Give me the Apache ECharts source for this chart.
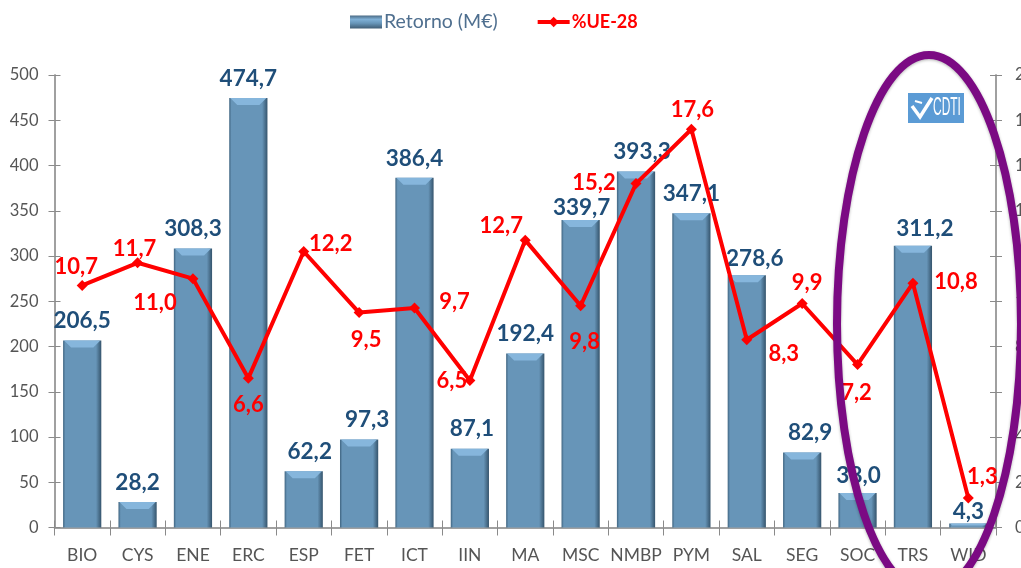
<!DOCTYPE html>
<html>
<head>
<meta charset="utf-8">
<style>
html,body{margin:0;padding:0;background:#fff;}
#mychart{width:1021px;height:568px;}
</style>
<script src="https://cdn.jsdelivr.net/npm/echarts@6/dist/echarts.min.js"></script>
</head>
<body>
<div id="mychart"></div>
<script>
const categories = ['BIO','CYS','ENE','ERC','ESP','FET','ICT','IIN','MA','MSC','NMBP','PYM','SAL','SEG','SOC','TRS','WID'];
const retorno = [206.5,28.2,308.3,474.7,62.2,97.3,386.4,87.1,192.4,339.7,393.3,347.1,278.6,82.9,38.0,311.2,4.3];
const ue28 = [10.7,11.7,11.0,6.6,12.2,9.5,9.7,6.5,12.7,9.8,15.2,17.6,8.3,9.9,7.2,10.8,1.3];
// donde cae cada etiqueta respecto a su punto o barra
const ueLabelOffsets = [[-6,-19],[-3,-14],[-38,24],[0,27],[27,-8],[7,27],[40,-6],[-18,0],[-24,-14],[4,36],[-42,-1],[1,-19],[37,14],[5,-21],[-1,28],[43,-1],[14,-21]];
const barLabelOffsets = [[0,0],[0,0],[0,0],[0,0],[6,0],[8,0],[0,0],[2,0],[0,0],[1,7],[6,0],[0,0],[8,3],[8,0],[1,2],[12,2],[0,8]];

const FONT = 'Lato';
const comma = (v, d) => v.toFixed(d).replace('.', ',');
const barGradient = new echarts.graphic.LinearGradient(0, 0, 1, 0, [
    {offset: 0, color: '#3f6480'},
    {offset: 0.06, color: '#6795b8'},
    {offset: 0.86, color: '#6795b8'},
    {offset: 1, color: '#35546c'}
]);
const legendGradient = new echarts.graphic.LinearGradient(0, 0, 0, 1, [
    {offset: 0, color: '#4a6a84'},
    {offset: 0.3, color: '#7fb0d6'},
    {offset: 0.6, color: '#6795b8'},
    {offset: 1, color: '#3f5c74'}
]);

const baseY = {
    type: 'value', min: 0, splitLine: {show: false},
    axisLine: {show: true, lineStyle: {color: '#9a9a9a', width: 1.5}},
    axisTick: {show: true, length: 6, lineStyle: {color: '#8a8a8a'}}
};
const tickOnlyY = (pos, max, interval) => ({
    ...baseY, position: pos, max, interval,
    axisTick: {show: true, inside: true, length: 6, lineStyle: {color: '#8a8a8a'}},
    axisLabel: {show: false}
});
const baseX = {
    type: 'category', data: categories, position: 'bottom',
    axisLine: {show: true, lineStyle: {color: '#9a9a9a', width: 1.5}}
};

const myChart = echarts.init(document.getElementById('mychart'));
myChart.setOption({
    animation: false,
    textStyle: {fontFamily: FONT},
    grid: {left: 54.5, right: 25, top: 75, bottom: 40.5, outerBoundsMode: 'none'},
    legend: {
        top: 7, left: 345, itemGap: 38, itemHeight: 13, itemWidth: 32,
        data: [
            {name: 'Retorno (M€)', icon: 'rect', itemStyle: {color: legendGradient},
                textStyle: {color: '#4f6f8f', fontSize: 19.5, padding: [0, 0, 0, -3]}},
            {name: '%UE-28', lineStyle: {width: 4, color: '#ff0000'},
                textStyle: {color: '#ff0000', fontSize: 18, fontWeight: 'bold', padding: [0, 0, 0, -3]}}
        ]
    },
    xAxis: [
        {...baseX,
            axisTick: {show: true, length: 8, lineStyle: {color: '#8a8a8a'}},
            axisLabel: {color: '#555', fontSize: 17.5, margin: 19, interval: 0}},
        {...baseX,
            axisTick: {show: true, inside: true, length: 7, lineStyle: {color: '#8a8a8a'}},
            axisLabel: {show: false}}
    ],
    yAxis: [
        {...baseY, position: 'left', max: 500, interval: 50,
            axisLabel: {color: '#555', fontSize: 16.5, margin: 16}},
        {...baseY, position: 'right', max: 20, interval: 2,
            axisLabel: {color: '#555', fontSize: 16.5, margin: 19, align: 'left'}},
        tickOnlyY('left', 500, 50),
        tickOnlyY('right', 20, 2)
    ],
    series: [
        {
            name: 'Retorno (M€)', type: 'bar', barWidth: '69%', z: 2,
            data: retorno.map((v, i) => ({
                value: v,
                label: {offset: barLabelOffsets[i]}
            })),
            itemStyle: {color: barGradient},
            label: {
                show: true, position: 'top', distance: 8,
                color: '#1f4e79', fontSize: 22.5, fontWeight: 'bold', fontFamily: FONT,
                formatter: p => comma(p.value, 1)
            }
        },
        {
            // el bisel claro de arriba de cada barra
            name: 'bisel', type: 'custom', z: 3, silent: true,
            data: retorno.map((v, i) => [i, v]),
            encode: {x: 0, y: 1},
            renderItem: (params, api) => {
                const top = api.coord([api.value(0), api.value(1)]);
                const zero = api.coord([api.value(0), 0]);
                const w = api.size([1, 0])[0] * 0.69;
                const h = Math.min(7, (zero[1] - top[1]) * 0.5);
                const l = top[0] - w / 2, r = top[0] + w / 2;
                return {
                    type: 'polygon',
                    shape: {points: [[l + 1, top[1]], [r - 1, top[1]], [r - h - 1, top[1] + h], [l + h + 1, top[1] + h]]},
                    style: {fill: '#86b6dc', stroke: null}
                };
            }
        },
        {
            name: '%UE-28', type: 'line', yAxisIndex: 1, z: 5,
            data: ue28.map((v, i) => ({
                value: v,
                label: {offset: ueLabelOffsets[i]}
            })),
            symbol: 'diamond', symbolSize: 11, showSymbol: true,
            lineStyle: {color: '#ff0000', width: 4},
            itemStyle: {color: '#ff0000'},
            label: {
                show: true, position: 'inside',
                color: '#ff0000', fontSize: 22, fontWeight: 'bold', fontFamily: FONT,
                formatter: p => comma(p.value, 1)
            }
        }
    ],
    graphic: [
        // logo CDTI
        {type: 'rect', z: 20, shape: {x: 908, y: 93, width: 56, height: 30}, style: {fill: '#5b9bd5'}},
        {type: 'polyline', z: 21, shape: {points: [[912, 106], [920, 117], [932, 98]]},
            style: {stroke: '#fff', lineWidth: 3.5, fill: null}},
        {type: 'line', z: 21, shape: {x1: 915, y1: 101, x2: 922, y2: 103},
            style: {stroke: '#fff', lineWidth: 2}},
        {type: 'text', z: 21, x: 933, y: 95, scaleX: 0.46, style: {text: 'CDTI', fill: '#fff', fontSize: 26, fontFamily: 'Liberation Sans'}},
        // elipse morada
        {type: 'ellipse', z: 30, shape: {cx: 929, cy: 324, rx: 92, ry: 269},
            style: {fill: null, stroke: '#7b0a83', lineWidth: 8, shadowBlur: 3, shadowColor: 'rgba(0,0,0,0.3)', shadowOffsetY: 1}}
    ]
});
</script>
</body>
</html>
